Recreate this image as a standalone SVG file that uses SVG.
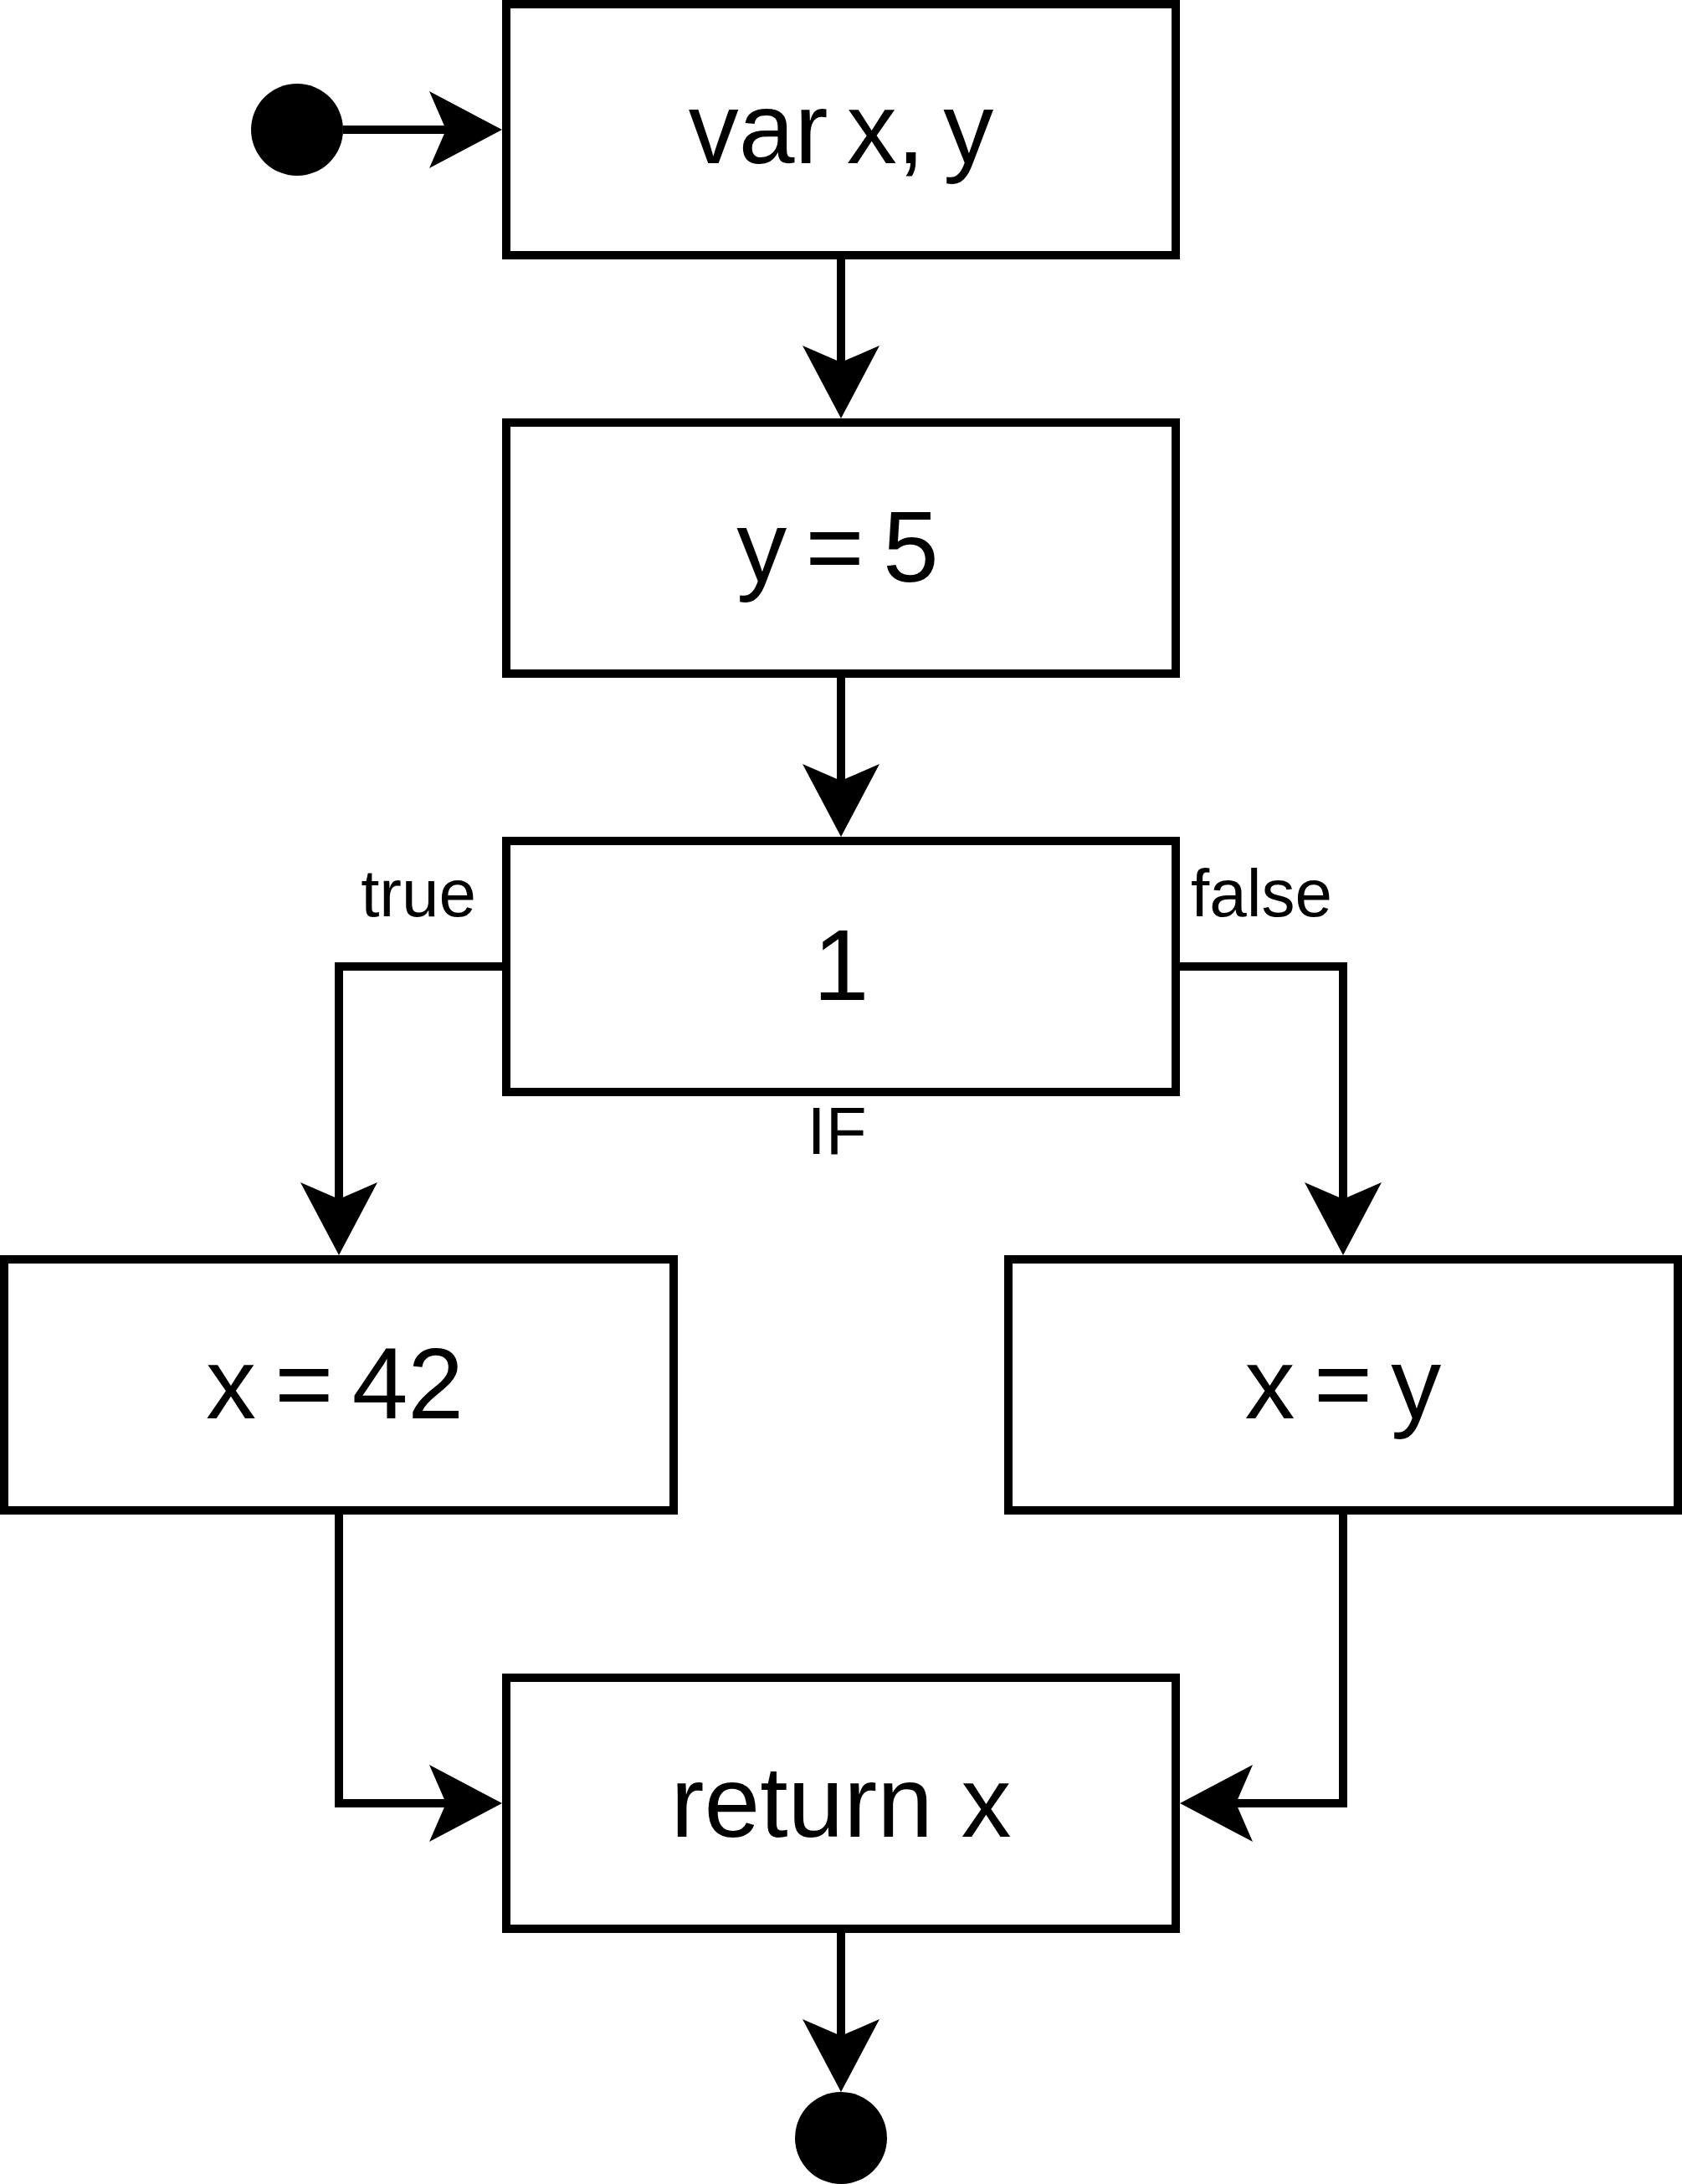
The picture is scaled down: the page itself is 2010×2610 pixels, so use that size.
<svg xmlns="http://www.w3.org/2000/svg" width="2010" height="2610" viewBox="0 0 2010 2610">
<style>
.box{fill:#fff;stroke:#000;stroke-width:10}
.t{font-family:"Liberation Sans",Arial,Helvetica,sans-serif;font-size:120px;fill:#000;text-anchor:middle}
.tight{word-spacing:-11px}
.lbl{font-family:"Liberation Sans",Arial,Helvetica,sans-serif;font-size:80px;fill:#000}
.edge{fill:none;stroke:#000;stroke-width:10;stroke-linejoin:miter;marker-end:url(#arr)}
.dot{fill:#000}
</style>
<defs>
<marker id="arr" markerUnits="userSpaceOnUse" viewBox="0 -50 90 100" markerWidth="90" markerHeight="100" refX="20" refY="0" orient="auto">
<path d="M0,-46 L87,0 L0,46 L20,0 Z" fill="#000"/>
</marker>
</defs>
<rect width="2010" height="2610" fill="#fff"/>
<g id="connectors">
<path class="edge" d="M410,155 H533"/>
<path class="edge" d="M1005,305 V433"/>
<path class="edge" d="M1005,805 V933"/>
<path class="edge" d="M605,1155 H405 V1433"/>
<path class="edge" d="M1405,1155 H1605 V1433"/>
<path class="edge" d="M405,1805 V2155 H533"/>
<path class="edge" d="M1605,1805 V2155 H1477"/>
<path class="edge" d="M1005,2305 V2433"/>
</g>
<g id="start"><circle class="dot" cx="355" cy="155" r="55"/></g>
<g id="n1"><rect class="box" x="605" y="5" width="800" height="300"/><text class="t tight" x="1005" y="195">var x, y</text></g>
<g id="n2"><rect class="box" x="605" y="505" width="800" height="300"/><text class="t tight" x="1001" y="695">y = 5</text></g>
<g id="n3"><rect class="box" x="605" y="1005" width="800" height="300"/><text class="t" x="1005" y="1195">1</text><text class="lbl" x="1000" y="1379" text-anchor="middle">IF</text></g>
<g id="lbl-true"><text class="lbl" x="569" y="1095" text-anchor="end">true</text></g>
<g id="lbl-false"><text class="lbl" x="1423" y="1095">false</text></g>
<g id="n4"><rect class="box" x="5" y="1505" width="800" height="300"/><text class="t tight" x="400" y="1695">x = 42</text></g>
<g id="n5"><rect class="box" x="1205" y="1505" width="800" height="300"/><text class="t tight" x="1605" y="1695">x = y</text></g>
<g id="n6"><rect class="box" x="605" y="2005" width="800" height="300"/><text class="t" x="1005" y="2195">return x</text></g>
<g id="end"><circle class="dot" cx="1005" cy="2555" r="55"/></g>
</svg>
